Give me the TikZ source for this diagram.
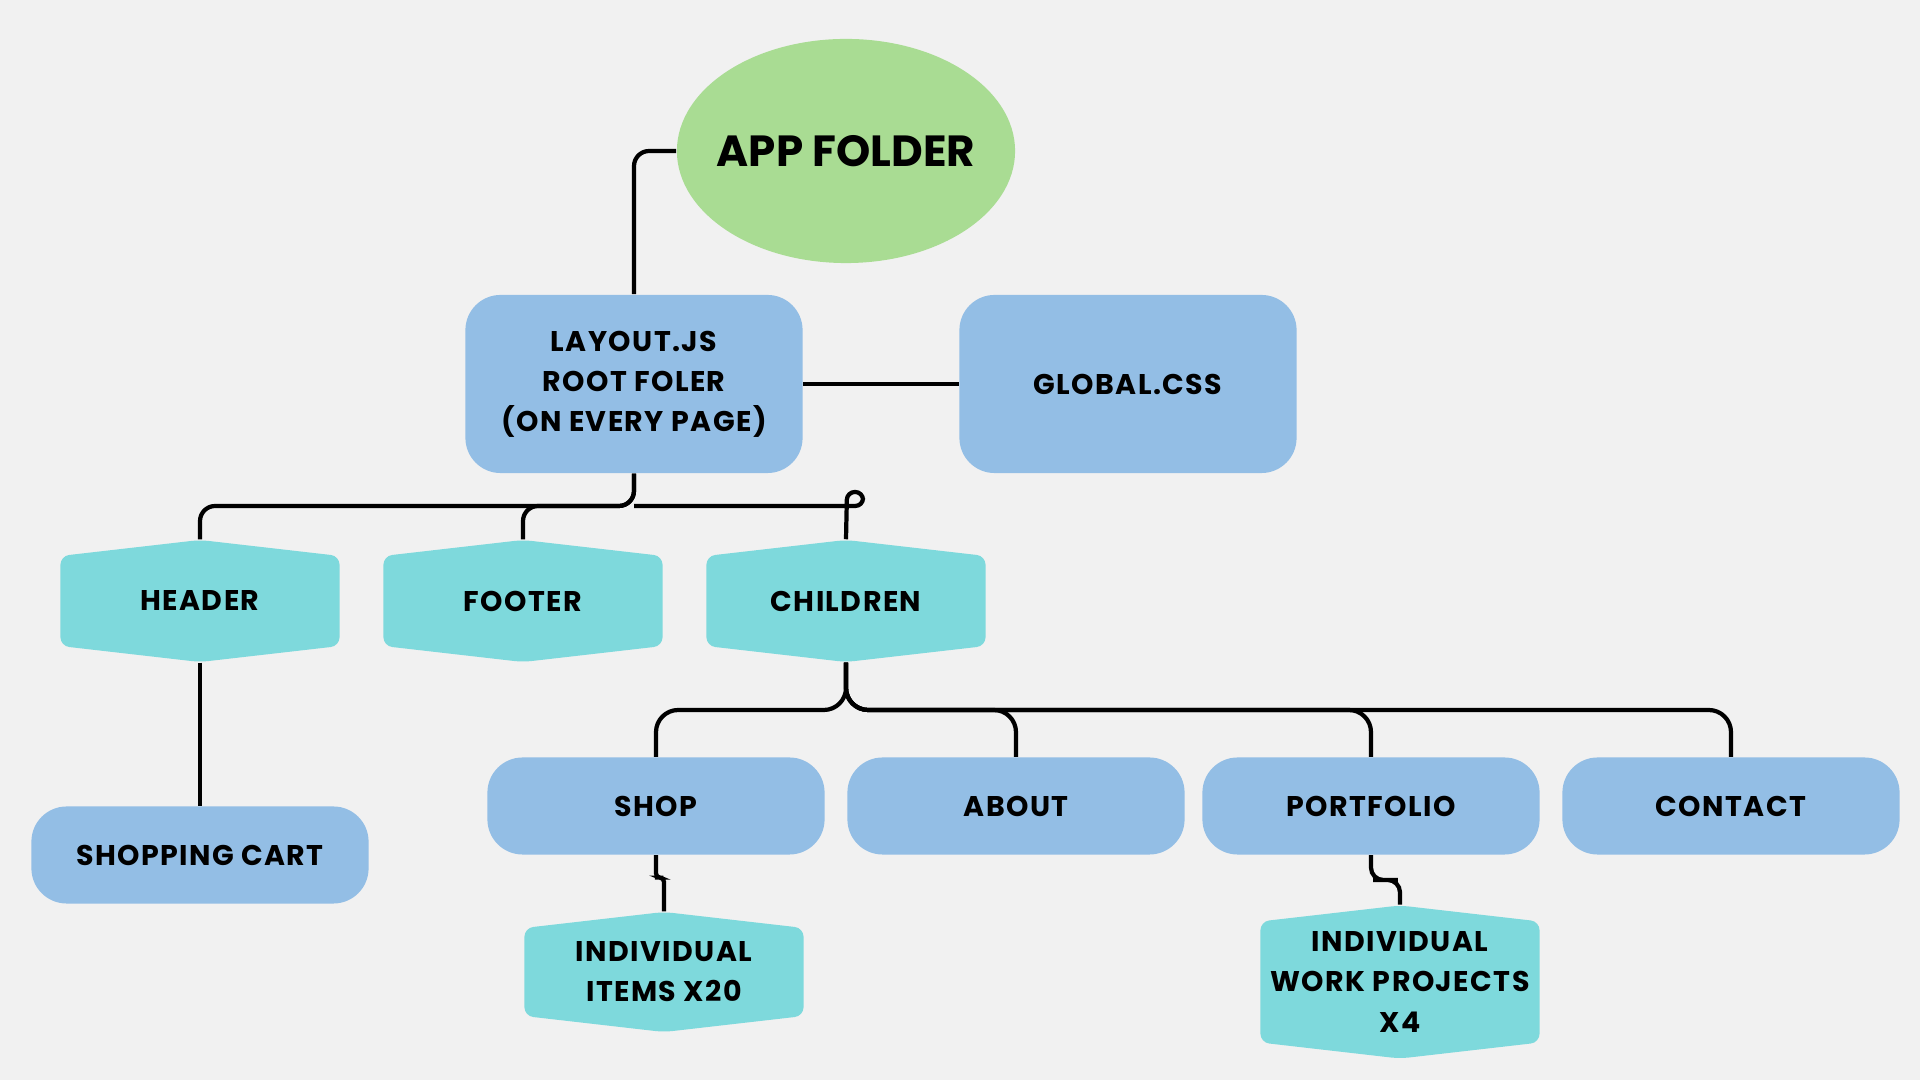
\documentclass[tikz,border=0pt]{standalone}
\usepackage{fontspec}
\setmainfont{Poppins}
\newfontfamily\lblfont{Poppins}[LetterSpace=5]
\usepackage{tikz}
\usetikzlibrary{shapes.geometric,calc}

\definecolor{bgcol}{HTML}{F1F1F1}
\definecolor{greencol}{HTML}{A9DC93}
\definecolor{bluecol}{HTML}{93BEE5}
\definecolor{tealcol}{HTML}{7ED9DC}

\tikzset{
	lbl/.style={font=\lblfont\fontsize{8.1}{11.4}\selectfont\bfseries, text=black, align=center, inner sep=0pt},
	box/.style={lbl, rectangle, fill=bluecol, rounded corners=10pt, minimum width=3.37cm},
	hexbox/.style={lbl, rectangle, minimum width=2.79cm,
		path picture={\fill[tealcol, rounded corners=2.5pt]
			([yshift=-0.16cm]path picture bounding box.north west) -- (path picture bounding box.north)
			-- ([yshift=-0.16cm]path picture bounding box.north east) -- ([yshift=0.16cm]path picture bounding box.south east)
			-- (path picture bounding box.south) -- ([yshift=0.16cm]path picture bounding box.south west) -- cycle;}},
	wire/.style={draw=black, line width=1.2pt}
}

\begin{document}
\begin{tikzpicture}[x=0.01cm, y=-0.01cm]
		\fill[bgcol] (0,0) rectangle (1920,1080);
		\useasboundingbox (0,0) rectangle (1920,1080);

		\node[ellipse, fill=greencol, minimum width=3.38cm, minimum height=2.24cm, inner sep=0pt,
			label={[font=\fontsize{12.4}{14}\selectfont\bfseries, inner sep=0pt]center:APP FOLDER}] (app) at (846,151) {};
		\node[box, minimum height=1.78cm] (layout) at (634,384) {LAYOUT.JS\\ROOT FOLER\\(ON EVERY PAGE)};
		\node[box, minimum height=1.78cm] (global) at (1128,384) {GLOBAL.CSS};

		\node[hexbox, minimum height=1.22cm] (header) at (200,601) {HEADER};
		\node[hexbox, minimum height=1.22cm] (footer) at (523,601) {FOOTER};
		\node[hexbox, minimum height=1.22cm] (children) at (846,601) {CHILDREN};

		\node[box, minimum height=0.97cm] (cart) at (200,855) {SHOPPING CART};
		\node[box, minimum height=0.97cm] (shop) at (656,806) {SHOP};
		\node[box, minimum height=0.97cm] (about) at (1016,806) {ABOUT};
		\node[box, minimum height=0.97cm] (portfolio) at (1371,806) {PORTFOLIO};
		\node[box, minimum height=0.97cm] (contact) at (1731,806) {CONTACT};

		\node[hexbox, minimum height=1.20cm] (items) at (664,972) {INDIVIDUAL\\ITEMS X20};
		\node[hexbox, minimum height=1.53cm] (projects) at (1400,982) {INDIVIDUAL\\WORK PROJECTS\\X4};

		\coordinate (busA) at (0,506);
		\coordinate (busB) at (0,710);

		\draw[wire, rounded corners=4.3pt] (app.west) -| (layout.north);
		\draw[wire] (layout.east) -- (global.west);
		\draw[wire, rounded corners=4.3pt] (layout.south) -- (layout.south |- busA) -| (header.north);
		\draw[wire, rounded corners=4.3pt] (layout.south) -- (layout.south |- busA) -| (footer.north);
		\draw[wire, rounded corners=2.2pt] (layout.south |- busA) -- (863,506) -- (863,492) -- (847,492) -- (children.north);

		\draw[wire, rounded corners=6.3pt] (children.south) -- (children.south |- busB) -| (shop.north);
		\draw[wire, rounded corners=6.3pt] (children.south) -- (children.south |- busB) -| (about.north);
		\draw[wire, rounded corners=6.3pt] (children.south) -- (children.south |- busB) -| (portfolio.north);
		\draw[wire, rounded corners=6.3pt] (children.south) -- (children.south |- busB) -| (contact.north);

		\draw[wire] (header.south) -- (cart.north);
		\draw[wire, rounded corners=1.2pt] (shop.south) |- ($(shop.south)!0.4!(items.north)$) -| (items.north);
		\draw[wire, rounded corners=3.5pt] (portfolio.south) |- ($(portfolio.south)!0.5!(projects.north)$) -| (projects.north);
		\end{tikzpicture}
\end{document}
